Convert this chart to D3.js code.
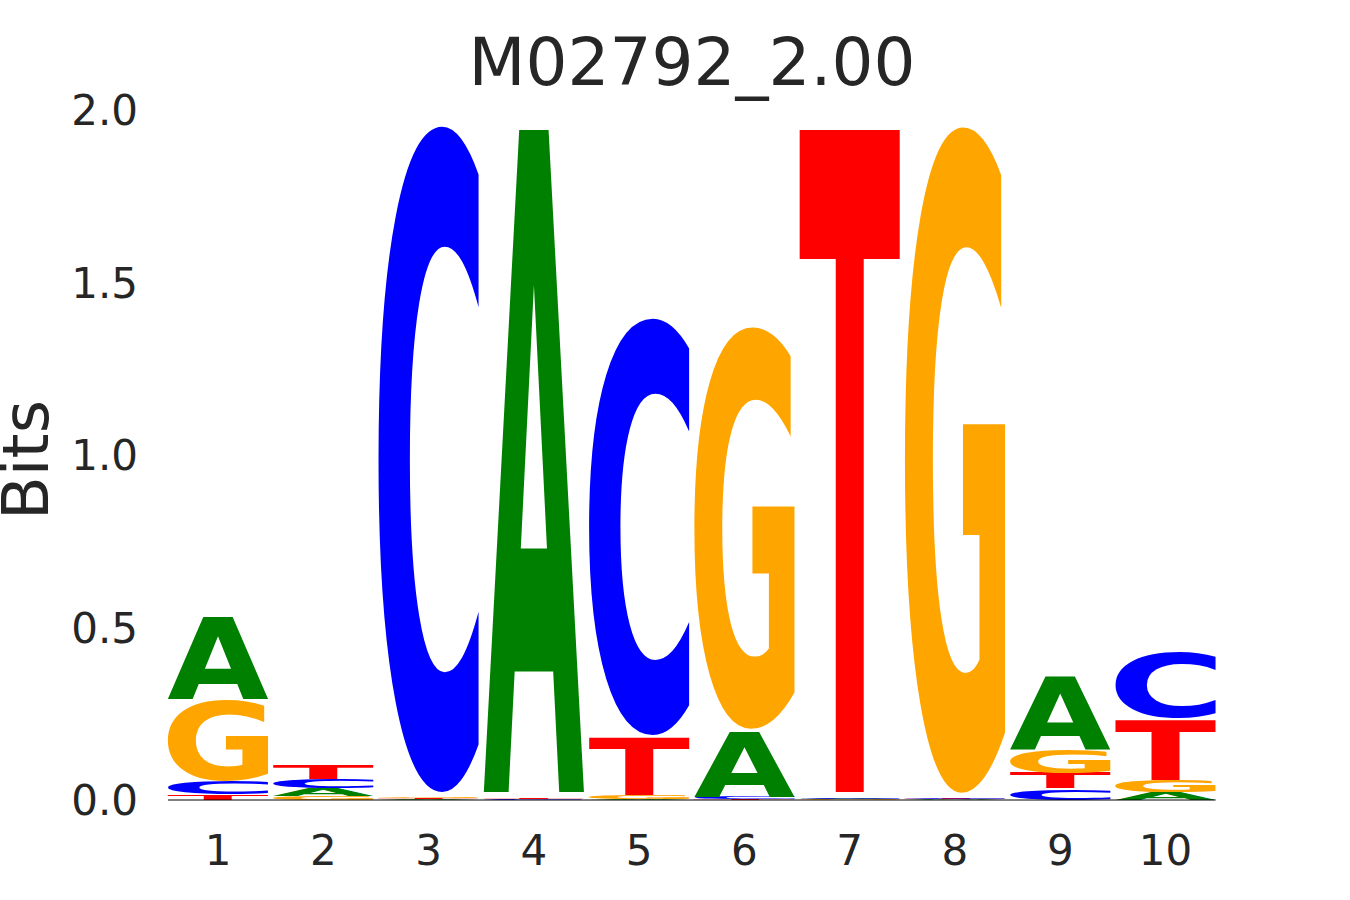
<!DOCTYPE html>
<html>
<head>
<meta charset="utf-8">
<script src="https://cdn.jsdelivr.net/npm/d3@7"></script>
<style>
  body { margin: 0; background: #fff; }
  text { font-family: "DejaVu Sans", sans-serif; fill: #262626; }
</style>
</head>
<body>
<div id="canvas"></div>
<script>
// logo data, heights in bits per position
var positions = [1, 2, 3, 4, 5, 6, 7, 8, 9, 10];
var bitsA = [0.242, 0.024, 0.002, 1.953, 0.002, 0.19, 0.002, 0.0015, 0.215, 0.023];
var bitsC = [0.04, 0.026, 1.956, 0.0015, 1.224, 0.006, 0.004, 0.004, 0.033, 0.195];
var bitsG = [0.236, 0.011, 0.0045, 0.001, 0.01, 1.18, 0.0015, 1.956, 0.07, 0.035];
var bitsT = [0.015, 0.04, 0.003, 0.005, 0.168, 0.002, 1.953, 0.002, 0.044, 0.177];
var yticks = [0, 0.5, 1.0, 1.5, 2.0];
var title = "M02792_2.00";

var colors = { A: "#008000", C: "#0000ff", G: "#ffa500", T: "#ff0000" };
var vpad = 0.016;

var width = 1350, height = 900;

var svg = d3
  .select("#canvas")
  .append("svg")
  .attr("width", width)
  .attr("height", height);

var xScale = d3.scaleLinear().domain([0.5, 10.5]).range([165.35, 1218.2]);
var yScale = d3.scaleLinear().domain([0, 2]).range([800, 110]);
var step = xScale(2) - xScale(1);

// stack letters per column, smallest at bottom
var stacks = [];
positions.forEach(function (p, i) {
  var col = [
    { ch: "A", v: bitsA[i] },
    { ch: "C", v: bitsC[i] },
    { ch: "G", v: bitsG[i] },
    { ch: "T", v: bitsT[i] },
  ].sort(function (a, b) { return a.v - b.v; });
  var y0 = 0;
  col.forEach(function (d) {
    stacks.push({ pos: p, ch: d.ch, y0: y0, y1: y0 + d.v });
    y0 += d.v;
  });
});

// glyph ink boxes: draw on a canvas and scan the pixels
var FS = 600, OX = 100, OY = 750, CW = 900, CH = 1000;
var cnv = document.createElement("canvas");
cnv.width = CW;
cnv.height = CH;
var ctx = cnv.getContext("2d");
var ink = {};
["A", "C", "G", "T"].forEach(function (ch) {
  ctx.clearRect(0, 0, CW, CH);
  ctx.font = "bold " + FS + "px 'DejaVu Sans'";
  ctx.fillStyle = "#000";
  ctx.fillText(ch, OX, OY);
  var px = ctx.getImageData(0, 0, CW, CH).data;
  var minX = CW, maxX = -1, minY = CH, maxY = -1;
  for (var y = 0; y < CH; y++) {
    for (var x = 0; x < CW; x++) {
      if (px[(y * CW + x) * 4 + 3] > 127) {
        if (x < minX) minX = x;
        if (x > maxX) maxX = x;
        if (y < minY) minY = y;
        if (y > maxY) maxY = y;
      }
    }
  }
  ink[ch] = {
    left: minX - OX,
    right: maxX + 1 - OX,
    top: minY - OY,
    bottom: maxY + 1 - OY,
  };
});

var letters = svg.append("g").attr("id", "letters");
letters
  .selectAll("text")
  .data(stacks)
  .enter()
  .append("text")
  .attr("font-size", FS)
  .attr("font-weight", "bold")
  .style("fill", (d) => colors[d.ch])
  .attr("transform", function (d) {
    var b = ink[d.ch];
    var w = step * 0.95;
    var x0 = xScale(d.pos) - w / 2;
    var boxH = yScale(d.y0) - yScale(d.y1);
    var yTop = yScale(d.y1) + boxH * vpad / 2;
    var h = boxH * (1 - vpad);
    var sx = w / (b.right - b.left);
    var sy = h / (b.bottom - b.top);
    return "translate(" + x0 + "," + yTop + ") scale(" + sx + "," + sy + ") translate(" + -b.left + "," + -b.top + ")";
  })
  .text((d) => d.ch);

// baseline
svg
  .append("line")
  .attr("x1", xScale(0.525))
  .attr("x2", xScale(10.475))
  .attr("y1", yScale(0))
  .attr("y2", yScale(0))
  .attr("stroke", "#000")
  .attr("stroke-width", 1);

// y tick labels
svg
  .selectAll(".ytick")
  .data(yticks)
  .enter()
  .append("text")
  .attr("class", "ytick")
  .attr("x", 138)
  .attr("y", (d) => yScale(d) + 15)
  .attr("text-anchor", "end")
  .attr("font-size", 42)
  .text((d) => d3.format(".1f")(d));

// x tick labels
svg
  .selectAll(".xtick")
  .data(positions)
  .enter()
  .append("text")
  .attr("class", "xtick")
  .attr("x", (d) => xScale(d))
  .attr("y", 865)
  .attr("text-anchor", "middle")
  .attr("font-size", 42)
  .text((d) => d);

// axis label and title
svg
  .append("text")
  .attr("transform", "translate(48,460) rotate(-90)")
  .attr("text-anchor", "middle")
  .attr("font-size", 64)
  .text("Bits");

svg
  .append("text")
  .attr("x", 692)
  .attr("y", 85)
  .attr("text-anchor", "middle")
  .attr("font-size", 66)
  .text(title);
</script>
</body>
</html>
